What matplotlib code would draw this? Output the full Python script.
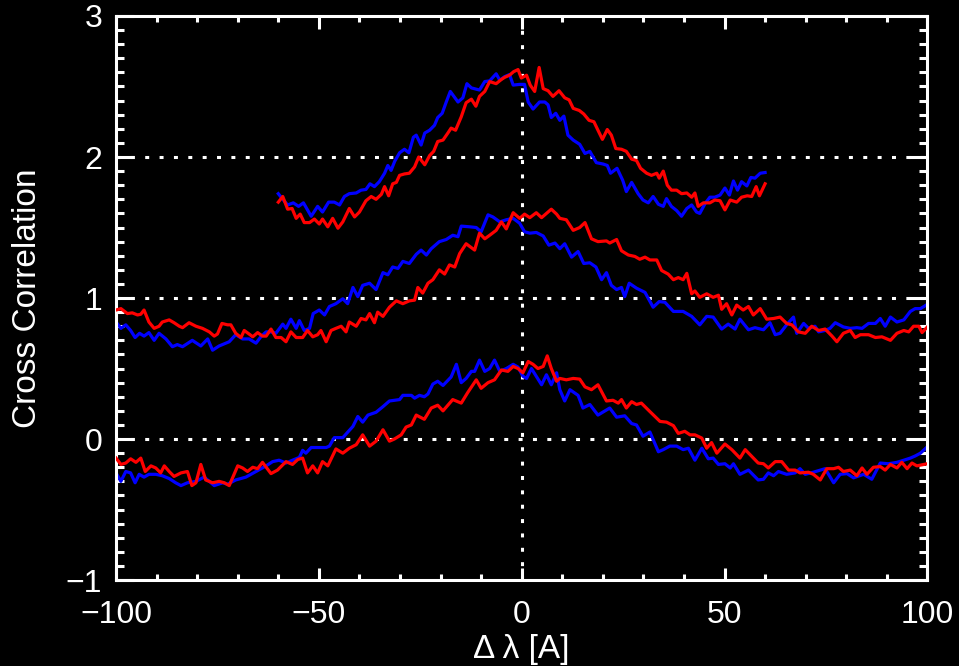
import matplotlib
matplotlib.use('Agg')
import matplotlib.pyplot as plt
from matplotlib.ticker import MultipleLocator

# ===================== Data =====================
# bottom pair (offset 0)
blue0 = [(-100, -0.24), (-98.8, -0.30), (-97.6, -0.23), (-96.4, -0.24), (-95.3, -0.31), (-94.3, -0.25),
         (-93.1, -0.27), (-91.9, -0.25), (-90.2, -0.25), (-88.6, -0.26), (-86.9, -0.28), (-85.3, -0.31),
         (-84.0, -0.33), (-82.4, -0.31), (-80.3, -0.30), (-78.3, -0.27), (-77.0, -0.30), (-75.8, -0.33),
         (-73.7, -0.31), (-72.5, -0.32), (-70.5, -0.29), (-68.0, -0.27), (-65.5, -0.23), (-63.0, -0.19),
         (-61.4, -0.16), (-59.8, -0.15), (-58.1, -0.17), (-56.5, -0.15), (-54.8, -0.13), (-54.0, -0.08),
         (-53.2, -0.10), (-51.9, -0.06), (-48.2, -0.06), (-47.4, -0.05), (-46.2, 0.01), (-44.1, 0.01),
         (-41.6, 0.09), (-40.4, 0.16), (-39.2, 0.12), (-37.9, 0.17), (-35.9, 0.19), (-34.2, 0.23),
         (-32.6, 0.27), (-30.1, 0.28), (-29.3, 0.31), (-27.2, 0.31), (-26.4, 0.29), (-25.2, 0.31),
         (-24.0, 0.30), (-23.1, 0.32), (-21.9, 0.39), (-20.7, 0.41), (-19.4, 0.38), (-17.4, 0.44),
         (-16.1, 0.53), (-14.9, 0.40), (-13.7, 0.43), (-12.4, 0.48), (-11.6, 0.48), (-10.4, 0.56),
         (-9.1, 0.48), (-7.9, 0.50), (-6.7, 0.56), (-5.4, 0.48), (-3.8, 0.50), (-2.1, 0.53), (-0.9, 0.51),
         (0.3, 0.445), (1.2, 0.43), (2.4, 0.50), (3.6, 0.445), (4.9, 0.385), (6.1, 0.456), (7.3, 0.385),
         (8.6, 0.47), (9.4, 0.35), (10.6, 0.27), (11.9, 0.35), (13.9, 0.31), (15.1, 0.22), (16.8, 0.245),
         (18.8, 0.17), (21.7, 0.22), (23.4, 0.155), (25.4, 0.165), (27.1, 0.11), (28.3, 0.10), (29.9, 0.02),
         (31.6, 0.05), (33.7, -0.09), (34.9, -0.075), (36.5, -0.05), (38.2, -0.05), (39.8, -0.075),
         (41.1, -0.065), (42.7, -0.15), (44.4, -0.065), (46.0, -0.14), (47.2, -0.135), (48.5, -0.18),
         (50.1, -0.175), (51.4, -0.205), (52.2, -0.175), (53.8, -0.25), (55.9, -0.22), (58.3, -0.29),
         (59.6, -0.285), (60.8, -0.24), (62.1, -0.26), (63.3, -0.23), (65.3, -0.25), (67.4, -0.24),
         (68.6, -0.21), (69.9, -0.25), (71.9, -0.235), (74.8, -0.21), (76.9, -0.31), (78.5, -0.25),
         (80.2, -0.245), (81.8, -0.275), (84.3, -0.25), (86.3, -0.285), (88.4, -0.17), (90.4, -0.175),
         (92.5, -0.165), (94.2, -0.15), (95.8, -0.135), (97.0, -0.12), (98.3, -0.10), (100, -0.055)]

red0 = [(-100, -0.135), (-98.8, -0.18), (-97.6, -0.17), (-96.4, -0.14), (-95.1, -0.165), (-93.9, -0.135),
        (-92.8, -0.23), (-91.4, -0.19), (-90.2, -0.205), (-89.0, -0.24), (-88.1, -0.19), (-86.9, -0.23),
        (-85.7, -0.265), (-84.0, -0.24), (-82.4, -0.23), (-81.3, -0.33), (-80.3, -0.31), (-79.1, -0.18),
        (-77.9, -0.29), (-76.2, -0.31), (-74.6, -0.30), (-73.3, -0.31), (-72.1, -0.33), (-70.0, -0.19),
        (-68.8, -0.205), (-67.6, -0.23), (-66.3, -0.20), (-65.1, -0.21), (-63.9, -0.165), (-61.8, -0.245),
        (-60.2, -0.22), (-58.1, -0.16), (-56.5, -0.18), (-55.2, -0.145), (-54.0, -0.135), (-52.8, -0.24),
        (-51.5, -0.19), (-50.3, -0.24), (-49.1, -0.16), (-47.8, -0.19), (-45.8, -0.07), (-44.1, -0.10),
        (-42.5, -0.065), (-40.8, -0.04), (-39.2, 0.03), (-37.5, -0.05), (-35.9, -0.015), (-34.2, 0.066),
        (-32.6, -0.015), (-31.4, 0.0), (-29.7, 0.03), (-28.5, 0.085), (-27.2, 0.10), (-26.0, 0.17),
        (-24.0, 0.14), (-22.3, 0.22), (-20.7, 0.24), (-19.4, 0.20), (-17.0, 0.28), (-14.9, 0.255),
        (-13.3, 0.33), (-11.2, 0.42), (-10.0, 0.36), (-8.3, 0.40), (-6.7, 0.42), (-5.0, 0.49),
        (-3.4, 0.48), (-2.1, 0.515), (-0.9, 0.50), (0.3, 0.47), (1.6, 0.55), (2.8, 0.53), (4.0, 0.50),
        (5.3, 0.515), (6.3, 0.59), (7.3, 0.50), (8.6, 0.41), (9.4, 0.43), (11.0, 0.42), (12.7, 0.43),
        (14.3, 0.425), (15.6, 0.37), (17.2, 0.35), (18.8, 0.385), (20.9, 0.27), (22.5, 0.275),
        (23.8, 0.255), (24.6, 0.28), (25.8, 0.22), (27.1, 0.265), (28.3, 0.245), (29.5, 0.255),
        (31.6, 0.195), (34.1, 0.125), (35.7, 0.12), (37.4, 0.095), (38.6, 0.04), (40.2, 0.055),
        (41.5, 0.03), (42.7, 0.03), (44.4, 0.007), (45.6, -0.065), (46.8, -0.025), (48.1, -0.10),
        (50.1, -0.035), (51.8, -0.075), (53.8, -0.135), (55.1, -0.075), (57.1, -0.135), (58.3, -0.17),
        (59.6, -0.175), (60.8, -0.205), (62.5, -0.16), (64.1, -0.16), (65.8, -0.22), (67.4, -0.22),
        (68.6, -0.24), (70.7, -0.235), (71.9, -0.25), (73.6, -0.29), (75.2, -0.21), (76.9, -0.21),
        (78.1, -0.20), (79.3, -0.23), (81.0, -0.22), (82.6, -0.26), (83.9, -0.205), (85.1, -0.25),
        (86.7, -0.20), (88.4, -0.195), (89.6, -0.22), (90.9, -0.18), (92.5, -0.205), (93.7, -0.165),
        (95.0, -0.21), (96.2, -0.17), (97.4, -0.19), (100, -0.175)]

# middle pair (offset 1)
blue1 = [(-100, 0.83), (-98.8, 0.785), (-97.6, 0.81), (-96.4, 0.77), (-95.3, 0.72), (-94.2, 0.75),
         (-93.1, 0.73), (-91.9, 0.755), (-90.6, 0.70), (-89.4, 0.75), (-87.7, 0.71), (-86.1, 0.655),
         (-84.9, 0.67), (-83.6, 0.655), (-81.2, 0.70), (-79.1, 0.66), (-77.4, 0.71), (-76.2, 0.63),
         (-74.6, 0.66), (-72.1, 0.69), (-70.5, 0.74), (-68.8, 0.71), (-67.2, 0.71), (-65.5, 0.68),
         (-64.3, 0.725), (-63.0, 0.76), (-61.8, 0.76), (-60.6, 0.75), (-58.9, 0.815), (-58.1, 0.785),
         (-56.9, 0.85), (-55.6, 0.785), (-54.8, 0.84), (-53.6, 0.77), (-52.3, 0.785), (-51.4, 0.89),
         (-49.9, 0.915), (-48.6, 0.88), (-47.4, 0.94), (-45.8, 0.96), (-44.1, 0.995), (-42.9, 0.96),
         (-41.6, 1.075), (-40.4, 1.01), (-39.2, 1.09), (-37.5, 1.105), (-35.9, 1.06), (-34.2, 1.18),
         (-33.0, 1.165), (-31.8, 1.22), (-30.5, 1.21), (-29.3, 1.26), (-27.7, 1.245), (-26.0, 1.31),
         (-24.8, 1.34), (-23.5, 1.305), (-22.3, 1.35), (-20.3, 1.40), (-18.6, 1.415), (-17.0, 1.445),
         (-15.7, 1.435), (-14.9, 1.51), (-12.8, 1.505), (-11.2, 1.50), (-10.0, 1.47), (-8.3, 1.59),
         (-7.1, 1.575), (-5.4, 1.54), (-3.8, 1.555), (-2.1, 1.565), (-0.5, 1.53), (0.7, 1.47),
         (2.0, 1.46), (3.6, 1.465), (5.3, 1.44), (6.7, 1.375), (8.2, 1.39), (9.4, 1.35), (10.6, 1.385),
         (12.3, 1.29), (13.9, 1.33), (15.3, 1.245), (16.8, 1.25), (18.3, 1.22), (19.7, 1.13), (20.9, 1.18),
         (22.1, 1.09), (23.4, 1.06), (24.6, 1.075), (25.4, 1.01), (26.5, 1.105), (28.3, 1.07), (30.4, 1.04),
         (32.4, 0.935), (33.9, 0.975), (35.3, 0.97), (37.4, 0.905), (39.8, 0.905), (41.9, 0.87),
         (43.9, 0.81), (45.6, 0.87), (47.2, 0.865), (49.3, 0.78), (50.9, 0.815), (52.6, 0.78),
         (53.8, 0.85), (55.9, 0.775), (57.5, 0.79), (59.6, 0.775), (61.2, 0.825), (62.5, 0.74),
         (63.7, 0.75), (65.3, 0.81), (67.0, 0.865), (67.8, 0.75), (69.5, 0.82), (70.7, 0.785),
         (72.3, 0.80), (73.2, 0.76), (74.8, 0.77), (76.0, 0.785), (77.3, 0.825), (79.3, 0.795),
         (81.0, 0.785), (82.6, 0.79), (83.9, 0.785), (85.5, 0.82), (87.2, 0.82), (88.4, 0.855),
         (89.6, 0.80), (90.9, 0.865), (92.5, 0.83), (94.2, 0.845), (95.8, 0.905), (97.0, 0.925),
         (98.3, 0.925), (100, 0.955)]

red1 = [(-100, 0.915), (-98.8, 0.925), (-97.2, 0.89), (-96.0, 0.895), (-94.7, 0.88), (-93.9, 0.885),
        (-93.1, 0.915), (-91.9, 0.83), (-90.6, 0.785), (-89.4, 0.80), (-88.6, 0.83), (-86.9, 0.845),
        (-85.7, 0.825), (-84.4, 0.80), (-83.6, 0.79), (-82.0, 0.825), (-80.3, 0.80), (-78.7, 0.785),
        (-77.0, 0.76), (-75.8, 0.73), (-75.0, 0.745), (-73.9, 0.82), (-72.5, 0.81), (-71.7, 0.81),
        (-70.5, 0.75), (-69.2, 0.72), (-68.4, 0.77), (-67.2, 0.745), (-66.3, 0.725), (-65.1, 0.755),
        (-63.9, 0.73), (-63.0, 0.73), (-61.8, 0.78), (-60.6, 0.72), (-59.3, 0.72), (-58.1, 0.69),
        (-56.9, 0.76), (-55.6, 0.72), (-54.0, 0.72), (-52.8, 0.77), (-51.5, 0.725), (-50.3, 0.74),
        (-49.5, 0.77), (-48.2, 0.69), (-47.0, 0.77), (-45.8, 0.785), (-44.5, 0.80), (-43.3, 0.76),
        (-42.5, 0.83), (-40.8, 0.80), (-39.6, 0.855), (-38.4, 0.845), (-37.5, 0.89), (-36.3, 0.825),
        (-35.5, 0.90), (-34.2, 0.87), (-32.6, 0.935), (-30.9, 0.98), (-29.3, 0.96), (-27.7, 0.98),
        (-26.4, 0.985), (-25.6, 1.075), (-24.4, 1.035), (-23.1, 1.105), (-21.9, 1.13), (-20.3, 1.20),
        (-19.0, 1.17), (-17.8, 1.235), (-16.5, 1.22), (-15.3, 1.315), (-13.7, 1.385), (-11.6, 1.34),
        (-10.4, 1.46), (-9.1, 1.42), (-7.9, 1.445), (-6.3, 1.48), (-5.0, 1.54), (-3.8, 1.49),
        (-2.1, 1.605), (-0.5, 1.565), (0.7, 1.595), (2.0, 1.57), (3.6, 1.605), (4.9, 1.57), (6.1, 1.60),
        (7.3, 1.63), (8.6, 1.595), (9.4, 1.565), (11.0, 1.555), (12.7, 1.48), (14.3, 1.50), (15.6, 1.535),
        (17.2, 1.42), (18.8, 1.40), (20.9, 1.405), (21.7, 1.39), (23.4, 1.415), (24.6, 1.335),
        (26.3, 1.305), (27.9, 1.295), (29.1, 1.275), (30.4, 1.29), (31.6, 1.27), (33.3, 1.27),
        (34.5, 1.195), (36.1, 1.17), (37.4, 1.13), (38.6, 1.145), (39.8, 1.13), (40.7, 1.175),
        (41.9, 1.03), (42.7, 1.05), (43.9, 1.005), (45.6, 1.03), (47.2, 1.005), (48.5, 1.02),
        (49.3, 0.92), (50.5, 0.96), (51.8, 0.88), (53.0, 0.95), (54.6, 0.915), (55.9, 0.94),
        (57.1, 0.88), (58.8, 0.925), (60.4, 0.85), (62.1, 0.855), (63.7, 0.865), (65.3, 0.82),
        (66.6, 0.81), (68.2, 0.76), (69.9, 0.75), (71.5, 0.80), (73.2, 0.77), (74.8, 0.78),
        (76.5, 0.73), (77.7, 0.69), (79.3, 0.75), (81.0, 0.77), (82.2, 0.72), (83.5, 0.74),
        (85.5, 0.74), (87.2, 0.72), (88.8, 0.725), (90.9, 0.70), (92.5, 0.75), (94.2, 0.77),
        (95.4, 0.76), (96.6, 0.80), (97.9, 0.80), (98.7, 0.755), (100, 0.795)]

# top pair (offset 2), only -60..60
blue2 = [(-60, 1.74), (-58.9, 1.70), (-57.7, 1.66), (-56.3, 1.675), (-55.0, 1.65), (-53.8, 1.675),
         (-51.9, 1.58), (-50.3, 1.65), (-49.1, 1.61), (-47.6, 1.68), (-46.2, 1.68), (-44.9, 1.66),
         (-43.7, 1.72), (-42.5, 1.74), (-40.8, 1.745), (-39.6, 1.765), (-38.4, 1.77), (-37.4, 1.81),
         (-36.3, 1.79), (-35.1, 1.825), (-33.8, 1.885), (-33.0, 1.94), (-32.2, 1.905), (-31.3, 1.97),
         (-30.1, 2.03), (-28.9, 2.055), (-27.8, 2.03), (-26.7, 2.14), (-26.0, 2.155), (-24.8, 2.085),
         (-23.9, 2.17), (-22.7, 2.19), (-21.5, 2.225), (-20.7, 2.28), (-19.6, 2.31), (-18.6, 2.39),
         (-17.6, 2.465), (-15.7, 2.39), (-14.5, 2.42), (-13.5, 2.52), (-12.4, 2.49), (-10.4, 2.475),
         (-9.1, 2.535), (-7.9, 2.54), (-6.3, 2.59), (-5.4, 2.545), (-4.2, 2.57), (-3.0, 2.585),
         (-2.1, 2.51), (-0.5, 2.515), (0.7, 2.515), (1.6, 2.39), (2.8, 2.34), (4.4, 2.39), (5.7, 2.39),
         (6.5, 2.37), (7.3, 2.28), (8.4, 2.31), (9.4, 2.26), (10.4, 2.29), (11.4, 2.155), (12.7, 2.12),
         (14.3, 2.09), (15.6, 2.025), (16.8, 2.04), (18.4, 1.96), (20.1, 1.95), (21.1, 1.94),
         (21.9, 1.885), (23.5, 1.92), (24.9, 1.835), (25.8, 1.755), (27.1, 1.82), (28.7, 1.74),
         (29.9, 1.695), (31.2, 1.675), (32.4, 1.72), (33.7, 1.665), (34.9, 1.65), (35.7, 1.705),
         (36.9, 1.65), (38.2, 1.62), (39.4, 1.58), (40.7, 1.635), (41.9, 1.66), (43.1, 1.61),
         (43.9, 1.60), (45.2, 1.67), (46.4, 1.715), (47.6, 1.715), (48.9, 1.73), (50.1, 1.78),
         (51.2, 1.73), (52.2, 1.83), (53.2, 1.765), (54.2, 1.825), (55.5, 1.795), (56.5, 1.855),
         (57.5, 1.85), (58.8, 1.885), (60, 1.89)]

red2 = [(-60, 1.68), (-58.9, 1.72), (-57.7, 1.63), (-56.6, 1.635), (-55.6, 1.565), (-54.6, 1.595),
        (-53.6, 1.535), (-52.3, 1.535), (-51.1, 1.56), (-49.9, 1.525), (-49.1, 1.56), (-47.8, 1.505),
        (-46.6, 1.565), (-45.3, 1.495), (-44.1, 1.54), (-42.5, 1.635), (-41.2, 1.575), (-40.0, 1.61),
        (-38.4, 1.69), (-37.1, 1.72), (-35.9, 1.70), (-34.6, 1.735), (-33.8, 1.79), (-32.8, 1.725),
        (-31.8, 1.81), (-30.9, 1.82), (-30.1, 1.87), (-28.9, 1.88), (-27.7, 1.885), (-26.4, 1.93),
        (-25.4, 2.00), (-23.9, 1.945), (-22.7, 2.01), (-21.7, 2.04), (-20.7, 2.11), (-19.4, 2.12),
        (-18.2, 2.17), (-17.4, 2.205), (-16.3, 2.19), (-14.9, 2.285), (-13.7, 2.385), (-12.4, 2.41),
        (-11.3, 2.36), (-10.4, 2.43), (-9.1, 2.465), (-7.9, 2.535), (-6.3, 2.52), (-5.0, 2.55),
        (-4.2, 2.565), (-3.0, 2.58), (-2.0, 2.605), (-0.9, 2.62), (-0.1, 2.56), (1.2, 2.58),
        (2.1, 2.51), (3.2, 2.465), (4.3, 2.635), (5.3, 2.485), (6.5, 2.47), (7.7, 2.43), (9.2, 2.47),
        (10.6, 2.42), (11.7, 2.405), (12.7, 2.345), (14.2, 2.33), (15.3, 2.305), (16.6, 2.26),
        (17.8, 2.25), (18.8, 2.19), (19.9, 2.125), (21.1, 2.195), (22.1, 2.155), (23.2, 2.06),
        (24.6, 2.055), (25.8, 2.04), (27.1, 1.985), (28.3, 1.975), (29.3, 1.92), (30.8, 1.885),
        (32.0, 1.87), (33.3, 1.885), (33.9, 1.85), (34.9, 1.90), (35.9, 1.80), (36.9, 1.765),
        (38.2, 1.765), (39.4, 1.74), (40.7, 1.745), (41.9, 1.715), (42.7, 1.745), (43.5, 1.65),
        (44.8, 1.675), (46.4, 1.675), (47.6, 1.695), (48.9, 1.69), (50.1, 1.625), (51.4, 1.695),
        (53.0, 1.68), (54.2, 1.715), (55.6, 1.725), (56.7, 1.72), (57.8, 1.79), (58.6, 1.725),
        (60, 1.81)]

grid_y = [0, 1, 2]
grid_x = [0]
x_ticks = [-100, -50, 0, 50, 100]
y_ticks = [-1, 0, 1, 2, 3]

# ===================== Style =====================
plt.rcParams['font.family'] = ['Liberation Sans Narrow', 'Liberation Sans', 'DejaVu Sans']
fg = 'white'

fig = plt.figure(figsize=(9.59, 6.66), dpi=100, facecolor='black')
ax = fig.add_axes([0.121, 0.129, 0.846, 0.847], facecolor='black')

# dotted reference lines
dots = (0, (1.3, 3.4))
for gy in grid_y:
    ax.axhline(gy, color=fg, lw=2.2, linestyle=dots, zorder=1)
for gx in grid_x:
    ax.axvline(gx, color=fg, lw=2.2, linestyle=dots, zorder=1)

# curves
for b, r in [(blue0, red0), (blue1, red1), (blue2, red2)]:
    ax.plot([p[0] for p in b], [p[1] for p in b], color='#0000ff', lw=2.3, zorder=2)
    ax.plot([p[0] for p in r], [p[1] for p in r], color='#ff0000', lw=2.3, zorder=3)

ax.set_xlim(-100, 100)
ax.set_ylim(-1, 3)
ax.set_xticks(x_ticks)
ax.set_yticks(y_ticks)
ax.set_xticklabels(['\u2212100', '\u221250', '0', '50', '100'])
ax.set_yticklabels(['\u22121', '0', '1', '2', '3'])
ax.xaxis.set_minor_locator(MultipleLocator(10))
ax.yaxis.set_minor_locator(MultipleLocator(0.1))

for s in ax.spines.values():
    s.set_color(fg)
    s.set_linewidth(2.2)

ax.tick_params(axis='both', which='both', direction='in', colors=fg, width=2.2,
               top=True, right=True, labelsize=23)
ax.tick_params(axis='x', which='major', length=9, pad=14)
ax.tick_params(axis='x', which='minor', length=4.5)
ax.tick_params(axis='y', which='major', length=13, pad=10)
ax.tick_params(axis='y', which='minor', length=6)

ax.set_xlabel('\u0394 \u03bb [A]', color=fg, fontsize=24, labelpad=3)
ax.set_ylabel('Cross Correlation', color=fg, fontsize=24, labelpad=16)

fig.savefig('out.png', dpi=100, facecolor='black')
